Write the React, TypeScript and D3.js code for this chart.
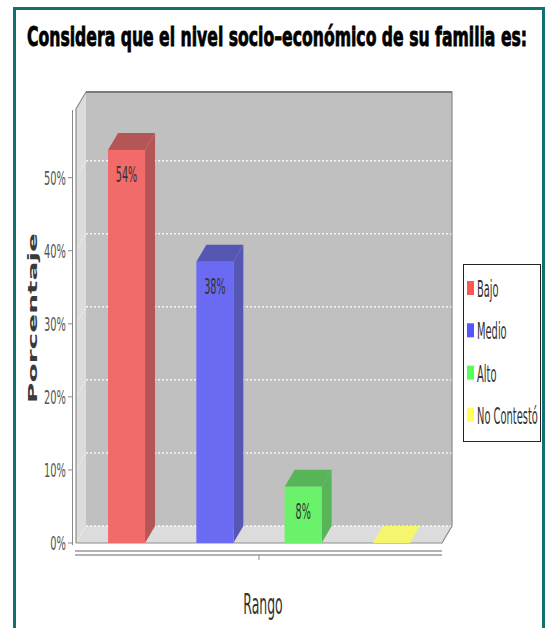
import { useLayoutEffect, useRef, useState } from "react";
import * as d3 from "d3";

const categories = ["Bajo", "Medio", "Alto", "No Contestó"];
const values = [53.8, 38.5, 7.7, 0];
const valueLabels = ["54%", "38%", "8%", ""];
const yTicks = [0, 10, 20, 30, 40, 50];
const titleText = "Considera que el nivel socio–económico de su familia es:";

const frontColors = ["#f26a6a", "#6a6af2", "#6af26a", "#f6f66e"];
const sideColors = ["#b55656", "#5656b5", "#56b556", "#c4c45a"];
const legendColors = ["#ff5555", "#5555ff", "#55ff55", "#ffff55"];

const W = 545;
const H = 628;
// front plane of the 3D plot and the depth offset of the back wall
const plot = { left: 76, right: 442, top: 109, bottom: 543 };
const dx = 10;
const dy = -17;

function SText({
  x,
  y,
  size,
  sx,
  anchor = "start",
  weight = "normal",
  fill = "#333",
  children,
}: {
  x: number;
  y: number;
  size: number;
  sx: number;
  anchor?: string;
  weight?: string;
  fill?: string;
  children: string;
}) {
  return (
    <text
      transform={`translate(${x},${y}) scale(${sx},1)`}
      fontSize={size}
      fontFamily="DejaVu Sans, sans-serif"
      fontWeight={weight}
      textAnchor={anchor}
      fill={fill}
    >
      {children}
    </text>
  );
}

// Title is a squeezed bold line; measure it once and scale it to fit the width.
function Title() {
  const ref = useRef<SVGTextElement>(null);
  const [sx, setSx] = useState(0.5);
  useLayoutEffect(() => {
    if (!ref.current) return;
    const w = ref.current.getComputedTextLength();
    if (w > 0) setSx(500 / w);
  }, []);
  return (
    <text
      ref={ref}
      transform={`translate(27,46) scale(${sx},1)`}
      fontSize={27}
      fontWeight="bold"
      fontFamily="DejaVu Sans, sans-serif"
      fill="#000"
      stroke="#000"
      strokeWidth={0.9}
    >
      {titleText}
    </text>
  );
}

export default function App() {
  const y = d3.scaleLinear().domain([0, 59.4]).range([plot.bottom, plot.top]);
  const x = d3
    .scaleBand<string>()
    .domain(categories)
    .range([plot.left, plot.right])
    .paddingInner(0.581)
    .paddingOuter(0.363);
  const bw = x.bandwidth();
  const backL = plot.left + dx;
  const backR = plot.right + dx;
  const backT = plot.top + dy;
  const backB = plot.bottom + dy;
  const pts = (p: number[][]) => p.map((q) => q.join(",")).join(" ");

  return (
    <svg
      width={W}
      height={H}
      style={{ position: "absolute", left: 0, top: 0, display: "block", background: "#fff" }}
    >
      <rect x={0} y={0} width={W} height={H} fill="#fff" />
      {/* teal frame */}
      <rect x={14.5} y={8.5} width={529} height={660} fill="none" stroke="#147070" strokeWidth={3} />

      <Title />

      {/* walls and floor */}
      <rect x={backL} y={backT} width={backR - backL} height={backB - backT} fill="#c0c0c0" />
      <polygon
        points={pts([[plot.left, plot.top], [backL, backT], [backL, backB], [plot.left, plot.bottom]])}
        fill="#dcdcdc"
      />
      <polygon
        points={pts([[plot.left, plot.bottom], [backL, backB], [backR, backB], [plot.right, plot.bottom]])}
        fill="#dcdcdc"
      />

      {/* gridlines */}
      {yTicks.map((t) => (
        <g key={t}>
          <line
            x1={backL}
            x2={backR}
            y1={y(t) + dy}
            y2={y(t) + dy}
            stroke="#fff"
            strokeWidth={1.5}
            strokeDasharray="2,2"
            opacity={0.85}
          />
          <line
            x1={plot.left}
            x2={backL}
            y1={y(t)}
            y2={y(t) + dy}
            stroke="#fff"
            strokeWidth={1}
            strokeDasharray="2,2"
            opacity={0.6}
          />
        </g>
      ))}

      {/* outline */}
      <polyline
        points={pts([
          [plot.left, plot.bottom],
          [plot.left, plot.top],
          [backL, backT],
          [backR, backT],
          [backR, backB],
          [plot.right, plot.bottom],
          [plot.left, plot.bottom],
        ])}
        fill="none"
        stroke="#8c8c8c"
        strokeWidth={1.2}
      />
      <line x1={backL} x2={backR} y1={backT} y2={backT} stroke="#7a7a7a" strokeWidth={2} />

      {/* bars */}
      {categories.map((c, i) => {
        const x0 = x(c)!;
        const x1 = x0 + bw;
        const yt = y(values[i]);
        const top = pts([[x0, yt], [x0 + dx, yt + dy], [x1 + dx, yt + dy], [x1, yt]]);
        if (values[i] === 0) {
          return <polygon key={c} points={top} fill={frontColors[i]} />;
        }
        return (
          <g key={c}>
            <polygon
              points={pts([[x1, yt], [x1 + dx, yt + dy], [x1 + dx, plot.bottom + dy], [x1, plot.bottom]])}
              fill={sideColors[i]}
            />
            <polygon points={top} fill={sideColors[i]} />
            <rect x={x0} y={yt} width={bw} height={plot.bottom - yt} fill={frontColors[i]} />
            {valueLabels[i] && (
              <SText x={x0 + bw / 2} y={yt + 32} size={21} sx={0.46} anchor="middle" fill="#333">
                {valueLabels[i]}
              </SText>
            )}
          </g>
        );
      })}

      {/* y axis */}
      <line x1={72.5} x2={72.5} y1={plot.top + 1} y2={plot.bottom + 2} stroke="#888" strokeWidth={1} />
      {yTicks.map((t) => (
        <g key={t}>
          <line x1={68} x2={72.5} y1={y(t)} y2={y(t)} stroke="#888" strokeWidth={1} />
          <SText x={66} y={y(t) + 7} size={19} sx={0.52} anchor="end" fill="#555">
            {`${t}%`}
          </SText>
        </g>
      ))}
      <text
        transform={`translate(37,318) scale(0.45,1) rotate(-90)`}
        fontSize={28}
        fontWeight="bold"
        fontFamily="DejaVu Sans, sans-serif"
        textAnchor="middle"
        fill="#3a3a3a"
      >
        Porcentaje
      </text>

      {/* x axis */}
      <line x1={plot.left - 1} x2={plot.right} y1={551} y2={551} stroke="#9a9a9a" strokeWidth={1.5} />
      <line x1={plot.left - 1} x2={plot.right} y1={555} y2={555} stroke="#9a9a9a" strokeWidth={1.5} />
      <line
        x1={(plot.left + plot.right) / 2}
        x2={(plot.left + plot.right) / 2}
        y1={555}
        y2={560}
        stroke="#888"
        strokeWidth={1}
      />
      <SText x={263} y={614} size={29} sx={0.43} anchor="middle" fill="#333">
        Rango
      </SText>

      {/* legend */}
      <rect x={463.5} y={264.5} width={77} height={177} fill="#fff" stroke="#222" strokeWidth={1} />
      {categories.map((c, i) => {
        const cy = 288 + i * 42.3;
        return (
          <g key={c}>
            <rect x={467} y={cy - 7} width={7} height={14} fill={legendColors[i]} />
            <SText x={477} y={cy + 9} size={23} sx={0.43} fill="#333">
              {c}
            </SText>
          </g>
        );
      })}
    </svg>
  );
}
